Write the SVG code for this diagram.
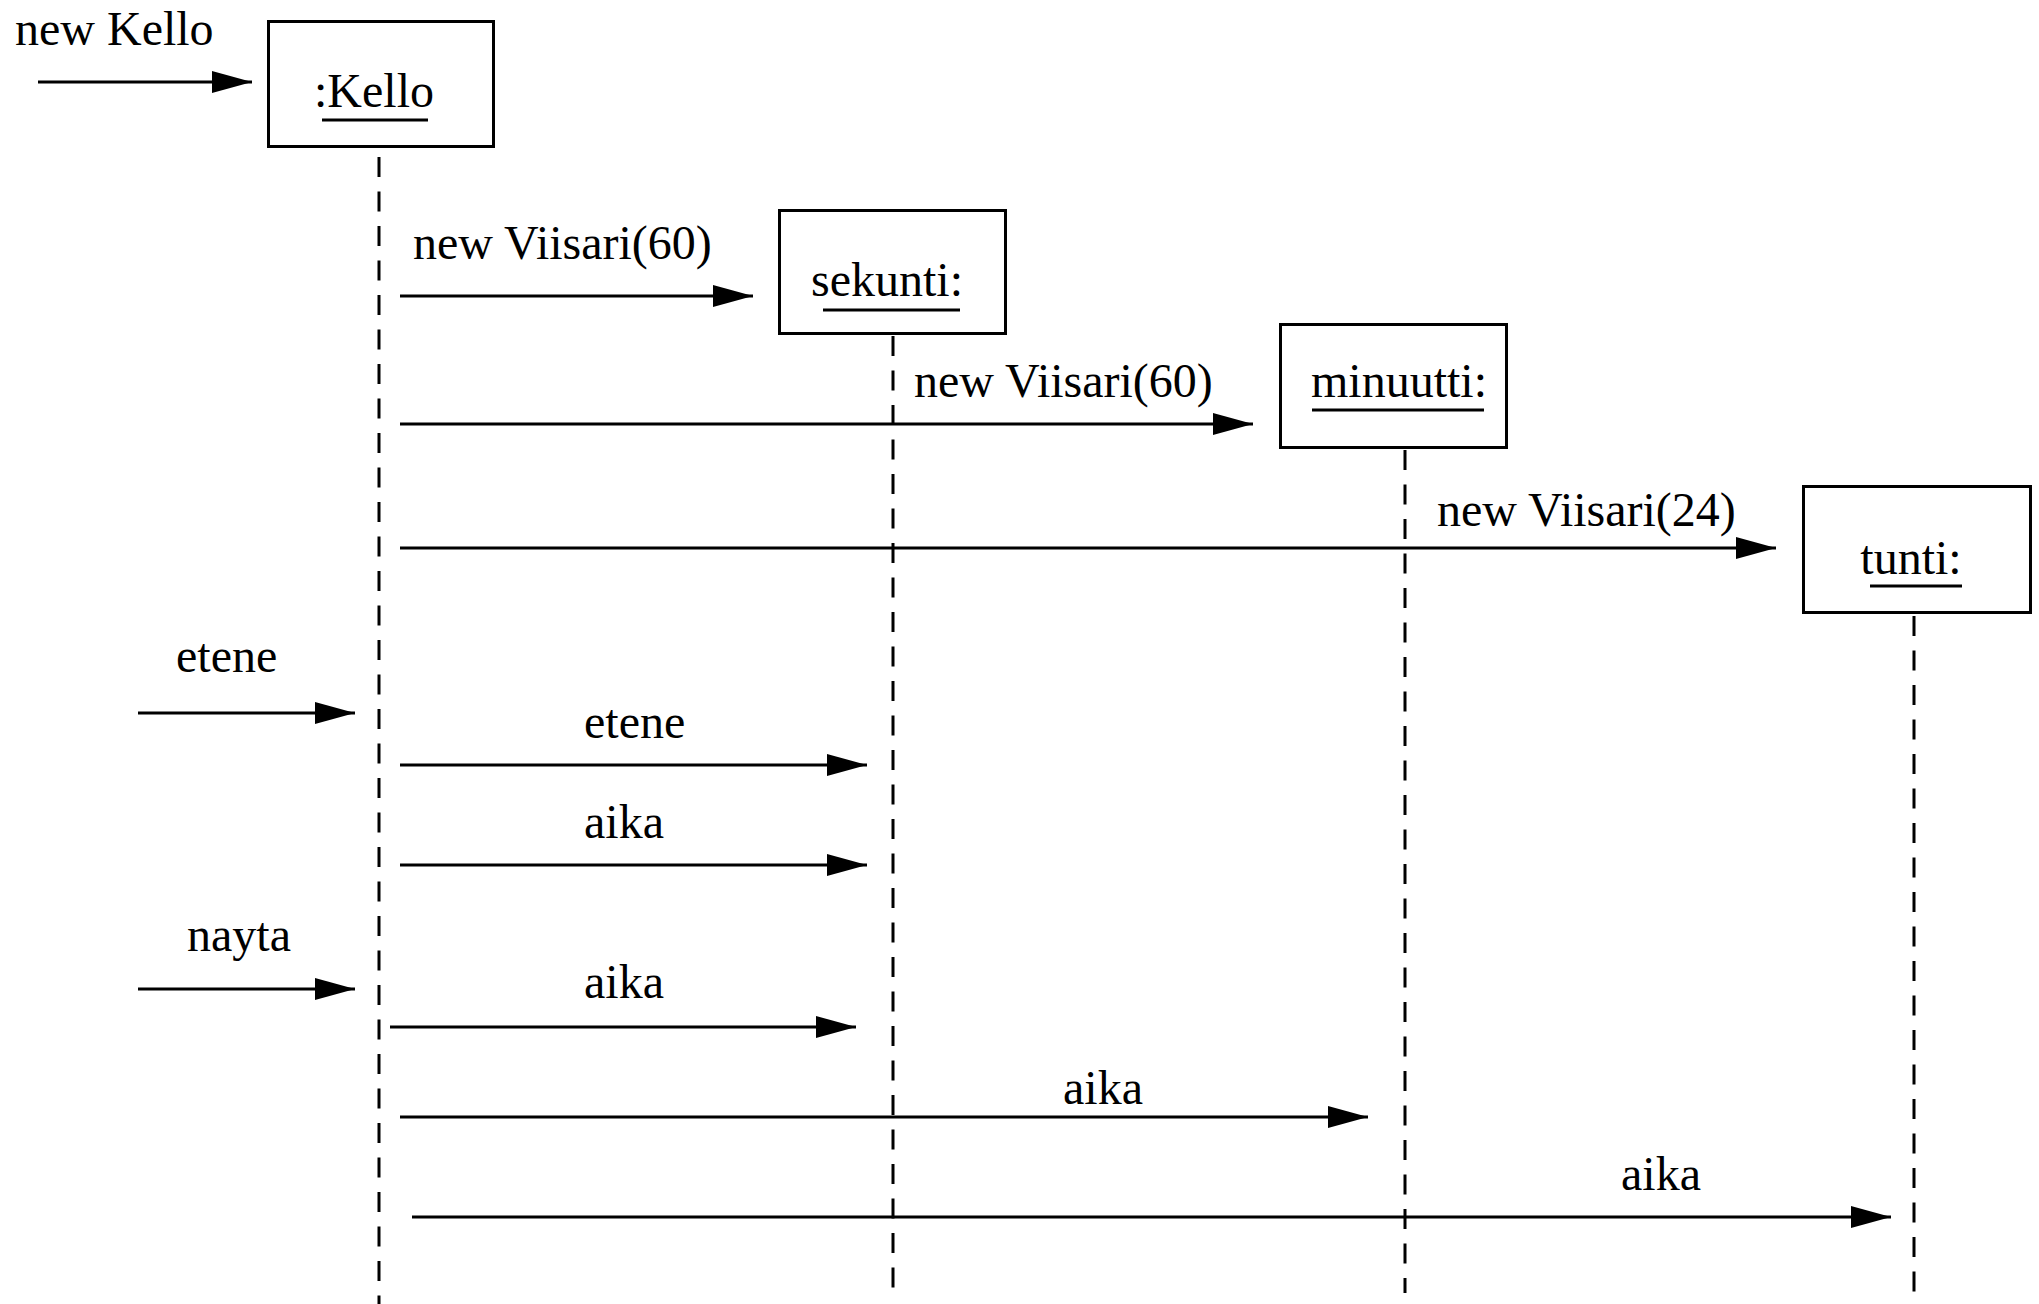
<svg xmlns="http://www.w3.org/2000/svg" width="2039" height="1304" viewBox="0 0 2039 1304">
<style>
text { font-family: "Liberation Serif", "Times New Roman", serif; font-size: 48px; fill: #000; }
.box { fill: #fff; stroke: #000; stroke-width: 3; }
.ul { stroke: #000; stroke-width: 3; }
.life { stroke: #000; stroke-width: 3; stroke-dasharray: 20 14.5; fill: none; }
.msg { stroke: #000; stroke-width: 3; fill: none; marker-end: url(#ah); }
</style>
<defs>
<marker id="ah" viewBox="0 0 40 24" refX="40" refY="12" markerWidth="40" markerHeight="24" markerUnits="userSpaceOnUse" orient="auto">
<path d="M0,1 L40,12 L0,23 Z" fill="#000"/>
</marker>
</defs>
<rect width="2039" height="1304" fill="#fff"/>
<g id="lifelines">
<line class="life" x1="379" y1="157" x2="379" y2="1304"/>
<line class="life" x1="893" y1="336" x2="893" y2="1293"/>
<line class="life" x1="1405" y1="450" x2="1405" y2="1293"/>
<line class="life" x1="1914" y1="616" x2="1914" y2="1293"/>
</g>
<g id="node-kello">
<rect class="box" x="268.5" y="21.5" width="225" height="125"/>
<text x="314" y="107">:Kello</text>
<line class="ul" x1="322" y1="120" x2="428" y2="120"/>
</g>
<g id="node-sekunti">
<rect class="box" x="779.5" y="210.5" width="226" height="123"/>
<text x="887" y="296" text-anchor="middle">sekunti:</text>
<line class="ul" x1="823" y1="310" x2="960" y2="310"/>
</g>
<g id="node-minuutti">
<rect class="box" x="1280.5" y="324.5" width="226" height="123"/>
<text x="1399" y="397" text-anchor="middle">minuutti:</text>
<line class="ul" x1="1312" y1="410" x2="1484" y2="410"/>
</g>
<g id="node-tunti">
<rect class="box" x="1803.5" y="486.5" width="227" height="126"/>
<text x="1911" y="574" text-anchor="middle">tunti:</text>
<line class="ul" x1="1870" y1="586" x2="1962" y2="586"/>
</g>
<g id="connectors">
<line class="msg" x1="38" y1="82" x2="252" y2="82"/>
<line class="msg" x1="400" y1="296" x2="753" y2="296"/>
<line class="msg" x1="400" y1="424" x2="1253" y2="424"/>
<line class="msg" x1="400" y1="548" x2="1776" y2="548"/>
<line class="msg" x1="138" y1="713" x2="355" y2="713"/>
<line class="msg" x1="400" y1="765" x2="867" y2="765"/>
<line class="msg" x1="400" y1="865" x2="867" y2="865"/>
<line class="msg" x1="138" y1="989" x2="355" y2="989"/>
<line class="msg" x1="390" y1="1027" x2="856" y2="1027"/>
<line class="msg" x1="400" y1="1117" x2="1368" y2="1117"/>
<line class="msg" x1="412" y1="1217" x2="1891" y2="1217"/>
</g>
<g id="labels">
<text x="15" y="45">new Kello</text>
<text x="413" y="259">new Viisari(60)</text>
<text x="914" y="397">new Viisari(60)</text>
<text x="1437" y="526">new Viisari(24)</text>
<text x="176" y="672">etene</text>
<text x="584" y="738">etene</text>
<text x="584" y="838">aika</text>
<text x="187" y="951">nayta</text>
<text x="584" y="998">aika</text>
<text x="1063" y="1104">aika</text>
<text x="1621" y="1190">aika</text>
</g>
</svg>
